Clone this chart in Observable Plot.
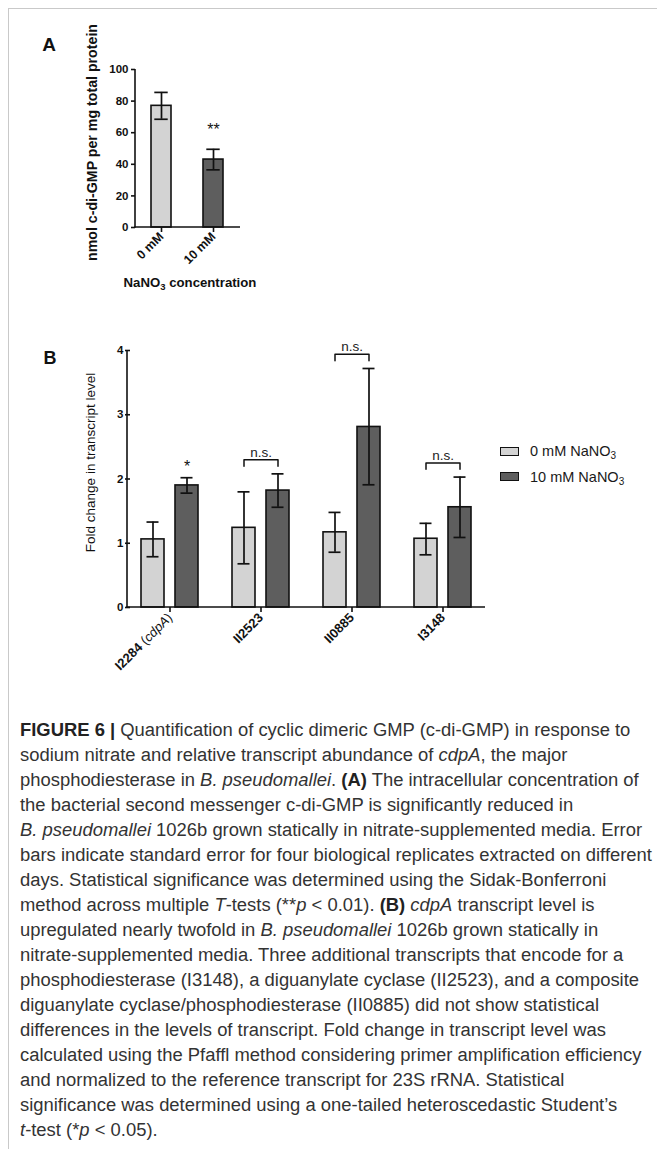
<!DOCTYPE html>
<html>
<head>
<meta charset="utf-8">
<script src="https://cdn.jsdelivr.net/npm/d3@7"></script>
<script src="https://cdn.jsdelivr.net/npm/@observablehq/plot@0.6"></script>
<style>
  html, body { margin: 0; padding: 0; background: #fff; }
  #root { position: relative; width: 657px; height: 1149px; overflow: hidden; font-family: "Liberation Sans", Arial, sans-serif; }
  .abs { position: absolute; }
  #border { position: absolute; left: 8px; top: 8px; width: 700px; height: 1200px; border-left: 1px solid #c9c9c9; border-top: 1px solid #c9c9c9; }
  .sw { position: absolute; width: 19px; height: 9px; box-sizing: border-box; border: 1.5px solid #111; }
  .lg { position: absolute; font-size: 14.5px; color: #1a1a1a; line-height: 16px; white-space: nowrap; }
  .lg sub { font-size: 10px; vertical-align: -3px; line-height: 0; }
  #caption { position: absolute; left: 20px; top: 717px; width: 660px; font-family: "Liberation Sans", Arial, sans-serif; font-size: 16px; line-height: 25px; color: #333; }
  #caption div { white-space: nowrap; }
  #caption b { font-weight: 700; color: #222; }
</style>
</head>
<body>
<div id="root">
  <div id="border"></div>
  <div id="panelA" class="abs" style="left:0;top:0"></div>
  <div id="panelB" class="abs" style="left:0;top:300px"></div>
  <div id="legend"></div>
  <div id="caption"></div>
</div>
<script>
// ---------- Panel A data ----------
const concA = ["0 mM", "10 mM"];
const meanA = [77, 43];
const lowA = [68.5, 36.5];
const highA = [85.5, 49.5];
const sigA = ["", "**"];
const ticksA = [0, 20, 40, 60, 80, 100];

// ---------- Panel B data ----------
const genesB = ["I2284 (cdpA)", "II2523", "II0885", "I3148"];
const condB = ["0 mM NaNO3", "10 mM NaNO3"];
const mean0 = [1.06, 1.24, 1.17, 1.07];
const low0 = [0.79, 0.68, 0.86, 0.82];
const high0 = [1.33, 1.80, 1.48, 1.31];
const mean10 = [1.90, 1.82, 2.81, 1.56];
const low10 = [1.78, 1.56, 1.91, 1.09];
const high10 = [2.02, 2.08, 3.72, 2.03];
const sigB = ["*", "n.s.", "n.s.", "n.s."];
const ticksB = [0, 1, 2, 3, 4];

const LIGHT = "#d3d3d3", DARK = "#5e5e5e", INK = "#111";
const FONT = "'Liberation Sans', Arial, sans-serif";

// ---------- Panel A ----------
const rowsA = concA.map((c, i) => ({cond: c, mean: meanA[i], lo: lowA[i], hi: highA[i], sig: sigA[i]}));

const plotA = Plot.plot({
  width: 300, height: 300,
  marginLeft: 135, marginRight: 60, marginTop: 69, marginBottom: 73,
  style: {fontFamily: FONT, color: INK, background: "transparent", overflow: "visible"},
  x: {domain: concA, paddingInner: 0.606, paddingOuter: 0.307},
  y: {domain: [0, 100]},
  color: {domain: concA, range: [LIGHT, DARK]},
  marks: [
    Plot.axisX({tickRotate: -45, tickSize: 5, tickPadding: 2, fontSize: 12.5, fontWeight: "bold", label: null, strokeWidth: 1.6}),
    Plot.axisY({ticks: ticksA, tickFormat: "d", tickSize: 4, tickPadding: 3, fontSize: 11.5, fontWeight: "bold", label: null, strokeWidth: 1.6}),
    Plot.barY(rowsA, {x: "cond", y: "mean", fill: "cond", stroke: INK, strokeWidth: 1.6}),
    Plot.ruleX(rowsA, {x: "cond", y1: "lo", y2: "hi", stroke: INK, strokeWidth: 1.7}),
    Plot.tickY(rowsA, {x: "cond", y: "lo", stroke: INK, strokeWidth: 1.7, insetLeft: 3.3, insetRight: 3.3}),
    Plot.tickY(rowsA, {x: "cond", y: "hi", stroke: INK, strokeWidth: 1.7, insetLeft: 3.3, insetRight: 3.3}),
    Plot.text(rowsA, {x: "cond", y: "hi", text: "sig", dy: -19, fontSize: 16, fill: INK})
  ]
});
document.getElementById("panelA").appendChild(plotA);

function drawAxisLines(plot, xStart, xEnd, yLo, yHi) {
  const svg = d3.select(plot.tagName === "svg" ? plot : plot.querySelector("svg"));
  const y = plot.scale("y");
  const g = svg.append("g").attr("stroke", INK).attr("stroke-width", 1.6).attr("fill", "none");
  g.append("line").attr("x1", xStart).attr("x2", xStart).attr("y1", y.apply(yLo) + 0.8).attr("y2", y.apply(yHi));
  g.append("line").attr("x1", xStart - 0.8).attr("x2", xEnd).attr("y1", y.apply(yLo)).attr("y2", y.apply(yLo));
  return svg;
}

{
  const xr = plotA.scale("x").range;
  const svg = drawAxisLines(plotA, xr[0], xr[1], 0, 100);
  svg.append("text").attr("x", 49).attr("y", 51).attr("font-size", 19).attr("font-weight", "bold")
    .attr("font-family", FONT).attr("fill", INK).text("A");
  svg.append("text").attr("transform", "translate(97,142.5) rotate(-90)").attr("text-anchor", "middle")
    .attr("font-size", 14.2).attr("font-weight", "bold").attr("font-family", FONT).attr("fill", INK)
    .text("nmol c-di-GMP per mg total protein");
  const t = svg.append("text").attr("x", 190).attr("y", 286.5).attr("text-anchor", "middle")
    .attr("font-size", 13.2).attr("font-weight", "bold").attr("font-family", FONT).attr("fill", INK);
  t.append("tspan").text("NaNO");
  t.append("tspan").attr("dy", 3.5).attr("font-size", 9.5).text("3");
  t.append("tspan").attr("dy", -3.5).text(" concentration");
}

// ---------- Panel B ----------
const rowsB = [];
genesB.forEach((g, i) => {
  rowsB.push({gene: g, cond: condB[0], mean: mean0[i], lo: low0[i], hi: high0[i]});
  rowsB.push({gene: g, cond: condB[1], mean: mean10[i], lo: low10[i], hi: high10[i]});
});
const starRows = genesB.map((g, i) => ({gene: g, cond: condB[1], hi: high10[i], sig: sigB[i]})).filter(d => d.sig === "*");
const nsRows = genesB.map((g, i) => ({gene: g, level: Math.max(high0[i], high10[i]) + 0.22, sig: sigB[i]})).filter(d => d.sig === "n.s.");
const bracketPts = [];
nsRows.forEach(d => {
  bracketPts.push({gene: d.gene, cond: condB[0], y: d.level - 0.1});
  bracketPts.push({gene: d.gene, cond: condB[0], y: d.level});
  bracketPts.push({gene: d.gene, cond: condB[1], y: d.level});
  bracketPts.push({gene: d.gene, cond: condB[1], y: d.level - 0.1});
});

const plotB = Plot.plot({
  width: 657, height: 400,
  marginLeft: 127, marginRight: 172, marginTop: 50, marginBottom: 93,
  style: {fontFamily: FONT, color: INK, background: "transparent", overflow: "visible"},
  fx: {domain: genesB, paddingInner: 0.13, paddingOuter: 0.011},
  x: {domain: condB, padding: 0.32, axis: null},
  y: {domain: [0, 4]},
  color: {domain: condB, range: [LIGHT, DARK]},
  marks: [
    Plot.axisFx({anchor: "bottom", tickRotate: -45, tickSize: 5, tickPadding: 3, fontSize: 13, fontWeight: "bold", label: null, strokeWidth: 1.6}),
    Plot.axisY({ticks: ticksB, tickFormat: "d", tickSize: 5, tickPadding: 2, fontSize: 11.5, fontWeight: "bold", label: null, strokeWidth: 1.6}),
    Plot.barY(rowsB, {fx: "gene", x: "cond", y: "mean", fill: "cond", stroke: INK, strokeWidth: 1.6}),
    Plot.ruleX(rowsB, {fx: "gene", x: "cond", y1: "lo", y2: "hi", stroke: INK, strokeWidth: 1.7}),
    Plot.tickY(rowsB, {fx: "gene", x: "cond", y: "lo", stroke: INK, strokeWidth: 1.7, insetLeft: 5.5, insetRight: 5.5}),
    Plot.tickY(rowsB, {fx: "gene", x: "cond", y: "hi", stroke: INK, strokeWidth: 1.7, insetLeft: 5.5, insetRight: 5.5}),
    Plot.text(starRows, {fx: "gene", x: "cond", y: "hi", text: "sig", dy: -11, fontSize: 16, fill: INK}),
    Plot.line(bracketPts, {fx: "gene", x: "cond", y: "y", z: "gene", stroke: INK, strokeWidth: 1.5}),
    Plot.text(nsRows, {fx: "gene", y: "level", text: "sig", lineAnchor: "bottom", dy: -3, fontSize: 13.5, fill: "#222"})
  ]
});
document.getElementById("panelB").appendChild(plotB);

{
  const fr = plotB.scale("fx").range;
  const svg = drawAxisLines(plotB, fr[0], fr[1], 0, 4);
  svg.append("text").attr("x", 50).attr("y", 64).attr("font-size", 18).attr("font-weight", "bold")
    .attr("font-family", FONT).attr("fill", INK).text("B");
  svg.append("text").attr("transform", "translate(95,162.5) rotate(-90)").attr("text-anchor", "middle")
    .attr("font-size", 13.5).attr("font-family", FONT).attr("fill", INK)
    .text("Fold change in transcript level");
  svg.selectAll("text").each(function() {
    if (this.textContent === "I2284 (cdpA)") {
      const t = d3.select(this);
      t.text(null);
      t.append("tspan").attr("font-weight", "bold").text("I2284 ");
      t.append("tspan").attr("font-weight", "normal").text("(");
      t.append("tspan").attr("font-weight", "normal").attr("font-style", "italic").text("cdpA");
      t.append("tspan").attr("font-weight", "normal").text(")");
    }
  });
}

// ---------- Legend ----------
{
  const lg = document.getElementById("legend");
  const colors = [LIGHT, DARK];
  condB.forEach((c, i) => {
    const top = 446.5 + i * 25.5;
    const sw = document.createElement("div");
    sw.className = "sw"; sw.style.left = "500px"; sw.style.top = top + "px"; sw.style.background = colors[i];
    lg.appendChild(sw);
    const tx = document.createElement("div");
    tx.className = "lg"; tx.style.left = "530px"; tx.style.top = (top - 3.5) + "px";
    tx.innerHTML = c.replace(/NaNO3$/, "NaNO<sub>3</sub>");
    lg.appendChild(tx);
  });
}

// ---------- Caption ----------
const captionLines = [
  "<b>FIGURE 6 |</b> Quantification of cyclic dimeric GMP (c-di-GMP) in response to",
  "sodium nitrate and relative transcript abundance of <i>cdpA</i>, the major",
  "phosphodiesterase in <i>B. pseudomallei</i>. <b>(A)</b> The intracellular concentration of",
  "the bacterial second messenger c-di-GMP is significantly reduced in",
  "<i>B. pseudomallei</i> 1026b grown statically in nitrate-supplemented media. Error",
  "bars indicate standard error for four biological replicates extracted on different",
  "days. Statistical significance was determined using the Sidak-Bonferroni",
  "method across multiple <i>T</i>-tests (**<i>p</i> &lt; 0.01). <b>(B)</b> <i>cdpA</i> transcript level is",
  "upregulated nearly twofold in <i>B. pseudomallei</i> 1026b grown statically in",
  "nitrate-supplemented media. Three additional transcripts that encode for a",
  "phosphodiesterase (I3148), a diguanylate cyclase (II2523), and a composite",
  "diguanylate cyclase/phosphodiesterase (II0885) did not show statistical",
  "differences in the levels of transcript. Fold change in transcript level was",
  "calculated using the Pfaffl method considering primer amplification efficiency",
  "and normalized to the reference transcript for 23S rRNA. Statistical",
  "significance was determined using a one-tailed heteroscedastic Student’s",
  "<i>t</i>-test (*<i>p</i> &lt; 0.05)."
];
{
  const cap = document.getElementById("caption");
  cap.innerHTML = captionLines.map(l => "<div><span>" + l + "</span></div>").join("");
  // fit the longest reference line (line 6) to its width in the figure (about 632px)
  const span = cap.querySelectorAll("span")[5];
  const w = span.getBoundingClientRect().width;
  if (w > 0) cap.style.fontSize = (16 * 632 / w).toFixed(2) + "px";
}
</script>
</body>
</html>
